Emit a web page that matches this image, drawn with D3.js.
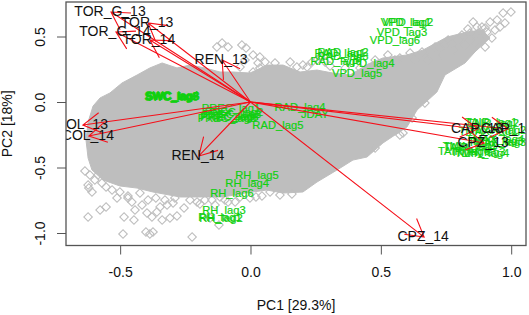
<!DOCTYPE html>
<html>
<head>
<meta charset="utf-8">
<script src="https://cdn.jsdelivr.net/npm/d3@7"></script>
<style>
  html, body { margin: 0; padding: 0; background: #fff; overflow: hidden; }
  text { font-family: "Liberation Sans", Arial, sans-serif; }
</style>
</head>
<body>
<svg id="biplot" width="529" height="315"></svg>
<script>
// ------------------- Data -------------------
const xTicks = [-0.5, 0, 0.5, 1];
const yTicks = [0.5, 0, -0.5, -1];

// outline of the solid mass of scores (PC1, PC2)
const cloudX = [-0.604,-0.577,-0.539,-0.493,-0.435,-0.386,-0.339,-0.282,-0.232,-0.175,-0.117,-0.067,-0.002,0.063,0.125,0.190,0.255,0.316,0.382,0.451,0.508,0.600,0.662,0.754,0.830,0.888,0.919,0.861,0.823,0.746,0.715,0.639,0.600,0.508,0.447,0.393,0.332,0.255,0.201,0.125,0.063,-0.021,-0.105,-0.205,-0.270,-0.374,-0.435,-0.501,-0.566,-0.608,-0.623,-0.631,-0.623];
const cloudY = [-0.031,0.031,0.069,0.145,0.206,0.260,0.298,0.260,0.282,0.260,0.229,0.229,0.221,0.282,0.282,0.229,0.244,0.221,0.206,0.290,0.336,0.359,0.397,0.496,0.534,0.550,0.489,0.382,0.298,0.206,0.076,-0.061,-0.191,-0.313,-0.420,-0.443,-0.519,-0.611,-0.687,-0.695,-0.672,-0.695,-0.725,-0.725,-0.725,-0.687,-0.657,-0.641,-0.595,-0.519,-0.428,-0.290,-0.153];

// separate scores outside the mass
const scoreX = [-0.623,-0.577,-0.554,-0.485,-0.447,-0.489,-0.401,-0.386,-0.374,-0.339,-0.309,-0.282,-0.224,-0.121,-0.635,-0.616,-0.623,-0.608,-0.620,-0.570,-0.554,-0.512,-0.455,-0.443,-0.397,-0.378,-0.359,-0.347,-0.297,-0.255,-0.205,-0.194,-0.155,-0.470,-0.416,-0.320,-0.136,-0.098,-0.059,-0.002,0.044,
  -0.109,-0.129,-0.033,0.010,0.036,0.029,0.010,0.036,0.056,0.178,0.201,0.236,0.255,0.217,0.267,0.363,0.527,0.612,0.658,0.708,0.758,0.811,0.854,0.834,0.873,0.919,0.976,0.969,0.999,0.938,0.900,0.888,0.573,0.585,0.620,0.669,0.478,
  0.727,0.746,0.773,0.796,0.784,0.823,0.842,0.861,0.880,0.907,0.926,0.900,0.957,0.946,0.869,0.842,0.735,0.689,0.681,0.631,0.573,0.554,0.478,0.420,0.305,0.286,0.152,0.094,-0.021,-0.040,-0.086,-0.017,
  -0.597,-0.585,-0.531,-0.501,-0.470,-0.424,-0.393,-0.363,-0.328,-0.290,-0.232,-0.175,-0.148,-0.117,-0.086,-0.040,0.021,0.075,0.113,0.159];
const scoreY = [-0.878,-0.824,-0.802,-0.878,-0.901,-1.008,-0.992,-1.008,-0.992,-0.901,-0.886,-0.870,-1.031,-0.939,-0.527,-0.557,-0.634,-0.687,-0.657,-0.618,-0.649,-0.733,-0.763,-0.824,-0.847,-0.878,-0.840,-0.802,-0.771,-0.809,-0.763,-0.779,-0.886,-0.718,-0.786,-0.786,-0.786,-0.748,-0.763,-0.733,-0.718,
  0.450,0.420,0.435,0.359,0.344,0.298,0.229,0.260,0.305,0.267,0.282,0.305,0.321,0.267,0.344,0.260,0.359,0.374,0.382,0.420,0.473,0.511,0.611,0.557,0.527,0.611,0.603,0.679,0.687,0.550,0.420,0.573,-0.252,-0.237,-0.122,-0.008,-0.351,
  0.412,0.435,0.443,0.473,0.397,0.435,0.473,0.458,0.489,0.534,0.489,0.565,0.573,0.626,0.573,0.527,0.359,0.359,0.321,0.321,0.336,0.321,0.321,0.260,0.275,0.305,0.305,0.298,0.321,0.267,0.420,0.412,
  -0.595,-0.557,-0.672,-0.687,-0.733,-0.695,-0.748,-0.733,-0.748,-0.733,-0.748,-0.748,-0.748,-0.725,-0.763,-0.725,-0.725,-0.687,-0.710,-0.702];

// loadings drawn as arrows
const loadingNames = ["TOR_G_13","TOR_13","TOR_G_14","TOR_14","REN_13","COL_13","COL_14","REN_14","CPZ_14","CAP_13","CAP_14","CPZ_13"];
const loadingX = [-0.535,-0.393,-0.516,-0.386,-0.109,-0.643,-0.620,-0.198,0.666,0.873,0.988,0.896];
const loadingY = [0.687,0.603,0.534,0.473,0.321,-0.176,-0.260,-0.412,-1.031,-0.206,-0.206,-0.313];

// climate variables, labels only
const climateNames = ["VPD_lag1","VPD_lag2","VPD_lag3","VPD_lag6","VPD_lag4","VPD_lag5",
  "RAD_lag1","RAD_lag2","RAD_lag3","RAD_lag6","RAD_lag4","RAD_lag5","JDAY",
  "PREC_lag1","PREC_lag2","PREC_lag3","PREC_lag4","PREC_lag5","PREC_lag6",
  "SWC_lag1","SWC_lag2","SWC_lag3","SWC_lag4","SWC_lag6","SWC_lag5",
  "RH_lag5","RH_lag4","RH_lag6","RH_lag3","RH_lag1","RH_lag2",
  "TAIR_lag1","TAIR_lag2","TMAX_lag1","TMAX_lag2","TMAX_lag3","TMAX_lag4","TMIN_lag5","TAIR_lag6","TMIN_lag3","TMIN_lag4","TAIR_lag3","TAIR_lag4"];
const climateX = [0.596,0.604,0.581,0.554,0.456,0.409,
  0.343,0.355,0.355,0.328,0.190,0.105,0.247,
  -0.075,-0.063,-0.071,-0.079,-0.090,-0.082,
  -0.305,-0.301,-0.297,-0.301,-0.303,-0.299,
  0.025,-0.013,-0.071,-0.102,-0.117,-0.113,
  0.923,0.930,0.911,0.946,0.946,0.938,0.842,0.819,0.873,0.888,0.946,0.842];
const climateY = [0.611,0.611,0.534,0.473,0.298,0.221,
  0.374,0.382,0.351,0.313,-0.038,-0.176,-0.092,
  -0.046,-0.076,-0.092,-0.107,-0.122,-0.115,
  0.046,0.042,0.046,0.050,0.038,0.046,
  -0.557,-0.618,-0.695,-0.824,-0.882,-0.886,
  -0.153,-0.160,-0.221,-0.214,-0.305,-0.282,-0.336,-0.374,-0.382,-0.389,-0.298,-0.344];

// ------------------- Setup -------------------
const svg = d3.select("#biplot");
const plot = { left: 66, right: 526, top: 2, bottom: 245.5 };

const x = d3.scaleLinear().domain([-0.7077, 1.0568]).range([plot.left, plot.right]);
const y = d3.scaleLinear().domain([-1.0954, 0.7634]).range([plot.bottom, plot.top]);

svg.append("defs").append("clipPath").attr("id", "plot-clip")
  .append("rect")
    .attr("x", plot.left)
    .attr("y", plot.top)
    .attr("width", plot.right - plot.left)
    .attr("height", plot.bottom - plot.top);

const g = svg.append("g").attr("clip-path", "url(#plot-clip)");

// ------------------- Scores -------------------
const grey = "#bebebe";
const outline = d3.line().x(i => x(cloudX[i])).y(i => y(cloudY[i])).curve(d3.curveLinearClosed);

g.append("path")
  .attr("d", outline(d3.range(cloudX.length)))
  .attr("fill", grey)
  .attr("stroke", grey);

const diamond = d3.symbol(d3.symbolSquare, 36);

g.selectAll("path.score")
  .data(d3.range(scoreX.length))
  .enter()
  .append("path")
    .attr("class", "score")
    .attr("d", diamond)
    .attr("transform", i => `translate(${x(scoreX[i])},${y(scoreY[i])}) rotate(45)`)
    .attr("fill", "none")
    .attr("stroke", grey)
    .attr("stroke-width", 1.1);

// ------------------- Climate labels -------------------
g.selectAll("text.climate")
  .data(climateNames)
  .enter()
  .append("text")
    .attr("class", "climate")
    .attr("x", (d, i) => x(climateX[i]))
    .attr("y", (d, i) => y(climateY[i]))
    .attr("dy", "0.35em")
    .attr("text-anchor", "middle")
    .attr("font-size", 11.2)
    .attr("fill", "#10d010")
    .attr("stroke", "#10d010")
    .attr("stroke-width", 0.2)
    .text(d => d);

// ------------------- Arrows -------------------
const headLength = 20;
const headAngle = Math.PI / 6;

function arrowPath(i) {
  const x0 = x(0), y0 = y(0);
  const x1 = x(loadingX[i]), y1 = y(loadingY[i]);
  const a = Math.atan2(y0 - y1, x0 - x1);
  const p = d3.path();
  p.moveTo(x0, y0);
  p.lineTo(x1, y1);
  p.moveTo(x1 + headLength * Math.cos(a - headAngle), y1 + headLength * Math.sin(a - headAngle));
  p.lineTo(x1, y1);
  p.lineTo(x1 + headLength * Math.cos(a + headAngle), y1 + headLength * Math.sin(a + headAngle));
  return p.toString();
}

g.selectAll("path.arrow")
  .data(d3.range(loadingNames.length))
  .enter()
  .append("path")
    .attr("class", "arrow")
    .attr("d", arrowPath)
    .attr("fill", "none")
    .attr("stroke", "#f5101a")
    .attr("stroke-width", 1.1);

// ------------------- Loading labels -------------------
g.selectAll("text.loading")
  .data(loadingNames)
  .enter()
  .append("text")
    .attr("class", "loading")
    .attr("x", (d, i) => x(loadingX[i]) - 1)
    .attr("y", (d, i) => y(loadingY[i]) - 1)
    .attr("dy", "0.35em")
    .attr("text-anchor", "middle")
    .attr("font-size", 14)
    .attr("fill", "#111")
    .text(d => d);

// ------------------- Axes -------------------
const axisColor = "#555";

svg.append("rect")
  .attr("x", plot.left)
  .attr("y", plot.top)
  .attr("width", plot.right - plot.left)
  .attr("height", plot.bottom - plot.top)
  .attr("fill", "none")
  .attr("stroke", axisColor)
  .attr("stroke-width", 1.3);

const xAxis = svg.append("g")
  .attr("transform", `translate(0,${plot.bottom})`)
  .call(d3.axisBottom(x).tickValues(xTicks).tickSize(9).tickPadding(13).tickFormat(d3.format(".1f")));

const yAxis = svg.append("g")
  .attr("transform", `translate(${plot.left},0)`)
  .call(d3.axisLeft(y).tickValues(yTicks).tickSize(9).tickFormat(d3.format(".1f")));

xAxis.select(".domain").remove();
yAxis.select(".domain").remove();
xAxis.selectAll("line").attr("stroke", axisColor);
yAxis.selectAll("line").attr("stroke", axisColor);

xAxis.selectAll("text")
  .attr("font-size", 14)
  .attr("font-family", "Liberation Sans")
  .attr("fill", "#111")
  .text(d => d3.format(".1f")(d).replace("\u2212", "-"));

yAxis.selectAll("text")
  .attr("font-size", 14)
  .attr("font-family", "Liberation Sans")
  .attr("fill", "#111")
  .attr("text-anchor", "middle")
  .attr("dy", 0)
  .attr("x", 0)
  .attr("transform", `translate(-21,0) rotate(-90)`)
  .text(d => d3.format(".1f")(d).replace("\u2212", "-"));

svg.append("text")
  .attr("x", (plot.left + plot.right) / 2)
  .attr("y", 310)
  .attr("text-anchor", "middle")
  .attr("font-size", 14)
  .attr("fill", "#111")
  .text("PC1 [29.3%]");

svg.append("text")
  .attr("transform", `translate(12,${(plot.top + plot.bottom) / 2}) rotate(-90)`)
  .attr("text-anchor", "middle")
  .attr("font-size", 14)
  .attr("fill", "#111")
  .text("PC2 [18%]");
</script>
</body>
</html>
